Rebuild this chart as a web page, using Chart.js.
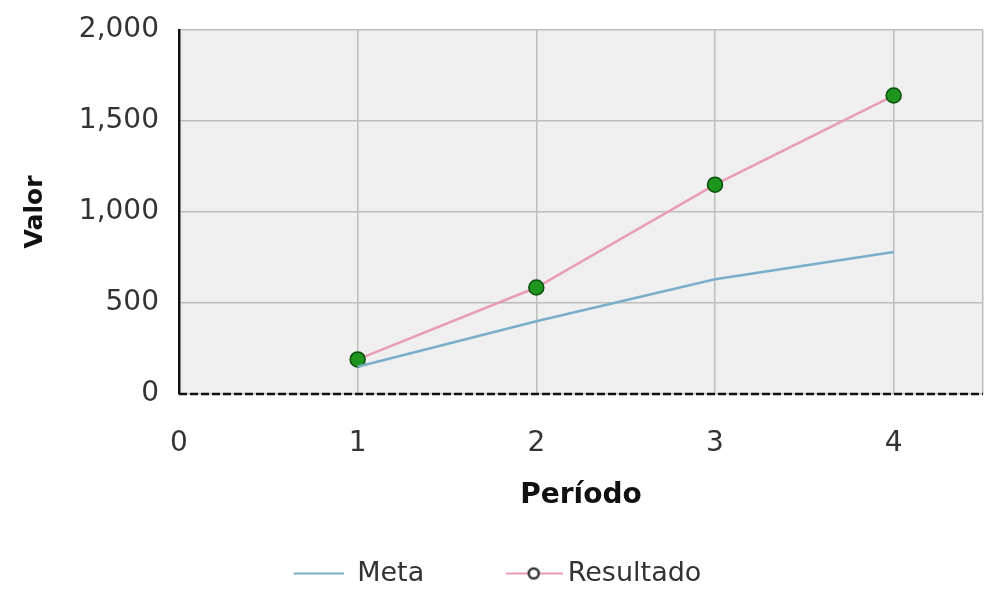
<!DOCTYPE html>
<html>
<head>
<meta charset="utf-8">
<script src="https://cdn.jsdelivr.net/npm/chart.js@4"></script>
<style>
html,body{margin:0;padding:0;background:#fff;}
#wrap{width:998px;height:589px;position:relative;}
</style>
</head>
<body>
<div id="wrap"><canvas id="c" width="998" height="589"></canvas></div>
<script>
const periods = [1, 2, 3, 4];
const metaValues = [150, 400, 630, 780];
const resultadoValues = [190, 585, 1150, 1640];
const seriesNames = ['Meta', 'Resultado'];
const xTitle = 'Período';
const yTitle = 'Valor';

const metaColor = '#78aec8';
const resColor = '#e99cb6';
const pointFill = '#1e961e';
const pointBorder = '#0b4d0b';
const FONT = '"DejaVu Sans", Verdana, sans-serif';

function metaLegendIcon() {
  const cv = document.createElement('canvas');
  cv.width = 52; cv.height = 20;
  const g = cv.getContext('2d');
  g.strokeStyle = metaColor; g.lineWidth = 2;
  g.beginPath(); g.moveTo(2, 10); g.lineTo(52, 10); g.stroke();
  return cv;
}
function resLegendIcon() {
  const cv = document.createElement('canvas');
  cv.width = 69; cv.height = 20;
  const g = cv.getContext('2d');
  g.strokeStyle = resColor; g.lineWidth = 2;
  g.beginPath(); g.moveTo(12, 10); g.lineTo(69, 10); g.stroke();
  g.fillStyle = '#ffffff';
  g.beginPath(); g.arc(40, 10, 5, 0, Math.PI * 2); g.fill();
  g.strokeStyle = '#333'; g.lineWidth = 2.5;
  g.stroke();
  return cv;
}
const metaIcon = metaLegendIcon();
const resIcon = resLegendIcon();

const framePlugin = {
  id: 'frame',
  beforeDraw(chart) {
    const a = chart.chartArea, ctx = chart.ctx;
    ctx.save();
    ctx.fillStyle = '#efefef';
    ctx.fillRect(a.left, a.top, a.right - a.left, a.bottom - a.top);
    ctx.restore();
  },
  afterDatasetsDraw(chart) {
    const a = chart.chartArea, ctx = chart.ctx;
    ctx.save();
    ctx.strokeStyle = '#111';
    ctx.lineWidth = 2.5;
    ctx.setLineDash([8, 3]);
    ctx.beginPath();
    ctx.moveTo(a.left, a.bottom);
    ctx.lineTo(a.right, a.bottom);
    ctx.stroke();
    ctx.restore();
  }
};

new Chart(document.getElementById('c'), {
  type: 'line',
  data: {
    datasets: [
      {
        label: seriesNames[0],
        data: periods.map((p, i) => ({x: p, y: metaValues[i]})),
        borderColor: metaColor,
        borderWidth: 2.5,
        pointRadius: 0,
        fill: false,
        tension: 0
      },
      {
        label: seriesNames[1],
        data: periods.map((p, i) => ({x: p, y: resultadoValues[i]})),
        borderColor: resColor,
        borderWidth: 2.5,
        pointRadius: 7.5,
        pointBackgroundColor: pointFill,
        pointBorderColor: pointBorder,
        pointBorderWidth: 1.5,
        fill: false,
        tension: 0
      }
    ]
  },
  options: {
    responsive: false,
    animation: false,
    devicePixelRatio: 1,
    layout: {padding: {top: 30, right: 15, left: 10, bottom: 0}},
    plugins: {
      tooltip: {enabled: false},
      legend: {
        position: 'bottom',
        maxHeight: 107,
        labels: {
          font: {family: FONT, size: 27},
          color: '#333',
          usePointStyle: true,
          pointStyleWidth: 52,
          padding: 78,
          generateLabels(chart) {
            return [
              {text: seriesNames[0], pointStyle: metaIcon, fillStyle: metaColor, strokeStyle: metaColor, lineWidth: 0, datasetIndex: 0, fontColor: '#333'},
              {text: seriesNames[1], pointStyle: resIcon, fillStyle: resColor, strokeStyle: resColor, lineWidth: 0, datasetIndex: 1, fontColor: '#333'}
            ];
          }
        }
      }
    },
    scales: {
      x: {
        type: 'linear',
        min: 0,
        max: 4.5,
        afterFit(s) { s.height = 88; s.paddingLeft = 0; s.paddingRight = 0; },
        ticks: {
          stepSize: 1,
          padding: 33,
          color: '#333',
          font: {family: FONT, size: 28},
          callback: v => Number.isInteger(v) ? String(v) : ''
        },
        grid: {color: '#bdbdbd', lineWidth: 1.5, drawTicks: false},
        border: {display: false},
        title: {display: true, text: xTitle, color: '#111', font: {family: FONT, size: 28, weight: 'bold'}, padding: {top: 0, bottom: -31}}
      },
      y: {
        min: 0,
        max: 2000,
        afterFit(s) { s.width = 169; s.paddingTop = 0; s.paddingBottom = 0; },
        ticks: {
          stepSize: 500,
          padding: 20,
          color: '#333',
          font: {family: FONT, size: 28},
          callback: v => v.toLocaleString('en-US')
        },
        grid: {color: '#bdbdbd', lineWidth: 1.5, drawTicks: false},
        border: {display: true, color: '#111', width: 2.5},
        title: {display: true, text: yTitle, color: '#111', font: {family: FONT, size: 25, weight: 'bold'}, padding: {top: 10, bottom: 0}}
      }
    }
  },
  plugins: [framePlugin]
});
</script>
</body>
</html>
